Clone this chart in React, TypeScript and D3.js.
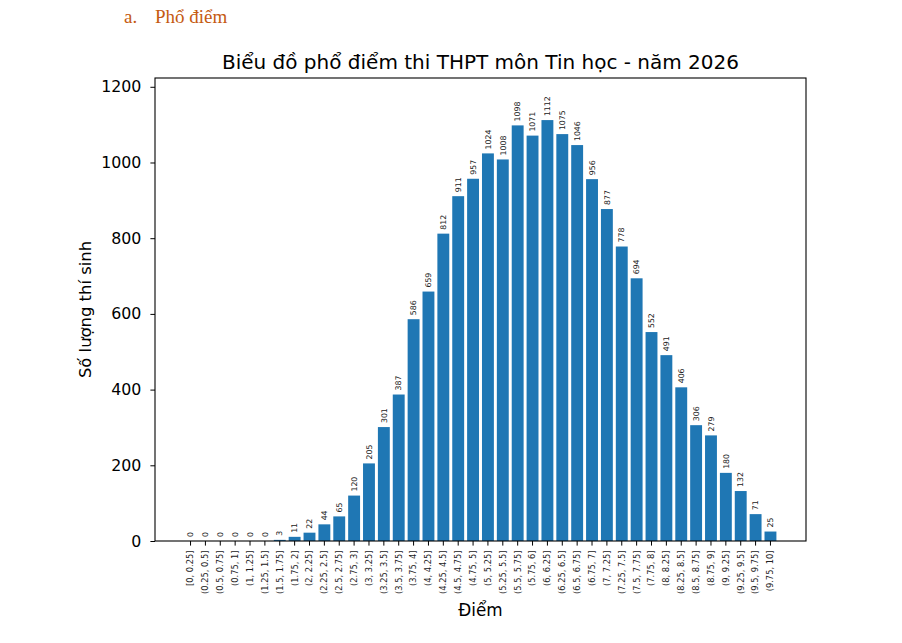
import { useEffect, useRef } from 'react'
import * as d3 from 'd3'

const binLabels = [
  '[0, 0.25]', '(0.25, 0.5]', '(0.5, 0.75]', '(0.75, 1]', '(1, 1.25]', '(1.25, 1.5]', '(1.5, 1.75]', '(1.75, 2]',
  '(2, 2.25]', '(2.25, 2.5]', '(2.5, 2.75]', '(2.75, 3]', '(3, 3.25]', '(3.25, 3.5]', '(3.5, 3.75]', '(3.75, 4]',
  '(4, 4.25]', '(4.25, 4.5]', '(4.5, 4.75]', '(4.75, 5]', '(5, 5.25]', '(5.25, 5.5]', '(5.5, 5.75]', '(5.75, 6]',
  '(6, 6.25]', '(6.25, 6.5]', '(6.5, 6.75]', '(6.75, 7]', '(7, 7.25]', '(7.25, 7.5]', '(7.5, 7.75]', '(7.75, 8]',
  '(8, 8.25]', '(8.25, 8.5]', '(8.5, 8.75]', '(8.75, 9]', '(9, 9.25]', '(9.25, 9.5]', '(9.5, 9.75]', '(9.75, 10]',
]
const counts = [
  0, 0, 0, 0, 0, 0, 3, 11,
  22, 44, 65, 120, 205, 301, 387, 586,
  659, 812, 911, 957, 1024, 1008, 1098, 1071,
  1112, 1075, 1046, 956, 877, 778, 694, 552,
  491, 406, 306, 279, 180, 132, 71, 25,
]
const yTicks = [0, 200, 400, 600, 800, 1000, 1200]

const FONT = "'DejaVu Sans', sans-serif"

const App = () => {
  const ref = useRef<SVGSVGElement>(null)

  useEffect(() => {
    const svg = d3.select(ref.current)
    svg.selectAll('*').remove()

    const width = 902
    const height = 643
    const margin = { top: 78, right: width - 806, bottom: height - 541, left: 155 }

    const data = binLabels.map((label, i) => ({ label, value: counts[i] }))

    const x = d3
      .scaleBand()
      .domain(binLabels)
      .range([margin.left, width - margin.right])
      .paddingInner(0.2)
      .paddingOuter(1.99)

    const y = d3
      .scaleLinear()
      .domain([0, (d3.max(counts) as number) * 1.1])
      .range([height - margin.bottom, margin.top])

    // header above the figure
    svg
      .append('text')
      .attr('x', 124)
      .attr('y', 23)
      .attr('fill', '#c55a11')
      .style('font-family', "'Liberation Serif', 'Times New Roman', serif")
      .style('font-size', '19px')
      .text('a.')
    svg
      .append('text')
      .attr('x', 155)
      .attr('y', 23)
      .attr('fill', '#c55a11')
      .style('font-family', "'Liberation Serif', 'Times New Roman', serif")
      .style('font-size', '19px')
      .text('Phổ điểm')

    // bars
    svg
      .append('g')
      .attr('fill', '#1f77b4')
      .selectAll('rect')
      .data(data)
      .join('rect')
      .attr('x', (d) => x(d.label) as number)
      .attr('width', x.bandwidth())
      .attr('y', (d) => y(d.value))
      .attr('height', (d) => y(0) - y(d.value))

    // value labels
    svg
      .append('g')
      .style('font-family', FONT)
      .style('font-size', '7.8px')
      .attr('fill', '#222')
      .selectAll('text')
      .data(data)
      .join('text')
      .attr('transform', (d) => `translate(${(x(d.label) as number) + x.bandwidth() / 2},${y(d.value) - 4}) rotate(-90)`)
      .attr('dy', '0.35em')
      .attr('text-anchor', 'start')
      .text((d) => d.value)

    // x axis
    const xAxis = svg
      .append('g')
      .attr('transform', `translate(0,${height - margin.bottom})`)
      .call(d3.axisBottom(x).tickSize(4.6).tickSizeOuter(0))
    xAxis.select('.domain').remove()
    xAxis
      .selectAll('text')
      .attr('y', 0)
      .attr('x', -9.5)
      .attr('dy', '0.35em')
      .attr('transform', 'rotate(-90)')
      .style('text-anchor', 'end')
      .style('font-family', FONT)
      .style('font-size', '8.3px')
      .attr('fill', '#222')
    xAxis.selectAll('line').attr('stroke', '#000').attr('stroke-width', 1)

    // y axis
    const yAxis = svg
      .append('g')
      .attr('transform', `translate(${margin.left},0)`)
      .call(d3.axisLeft(y).tickValues(yTicks).tickFormat(d3.format('d')).tickSize(4.6).tickPadding(9))
    yAxis.select('.domain').remove()
    yAxis
      .selectAll('text')
      .style('font-family', FONT)
      .style('font-size', '15.8px')
      .attr('fill', '#000')
    yAxis.selectAll('line').attr('stroke', '#000').attr('stroke-width', 1)

    // frame
    svg
      .append('rect')
      .attr('x', margin.left)
      .attr('y', margin.top)
      .attr('width', width - margin.right - margin.left)
      .attr('height', height - margin.bottom - margin.top)
      .attr('fill', 'none')
      .attr('stroke', '#000')
      .attr('stroke-width', 1.1)

    // title and axis labels
    svg
      .append('text')
      .attr('x', (margin.left + width - margin.right) / 2)
      .attr('y', 68.5)
      .attr('text-anchor', 'middle')
      .style('font-family', FONT)
      .style('font-size', '20px')
      .text('Biểu đồ phổ điểm thi THPT môn Tin học - năm 2026')

    svg
      .append('text')
      .attr('x', (margin.left + width - margin.right) / 2)
      .attr('y', 616)
      .attr('text-anchor', 'middle')
      .style('font-family', FONT)
      .style('font-size', '16.8px')
      .text('Điểm')

    svg
      .append('text')
      .attr('transform', `translate(91,${(margin.top + height - margin.bottom) / 2}) rotate(-90)`)
      .attr('text-anchor', 'middle')
      .style('font-family', FONT)
      .style('font-size', '16.4px')
      .text('Số lượng thí sinh')
  }, [])

  return (
    <svg
      ref={ref}
      width={902}
      height={643}
      style={{ position: 'absolute', left: 0, top: 0, background: '#fff' }}
    />
  )
}

export default App
